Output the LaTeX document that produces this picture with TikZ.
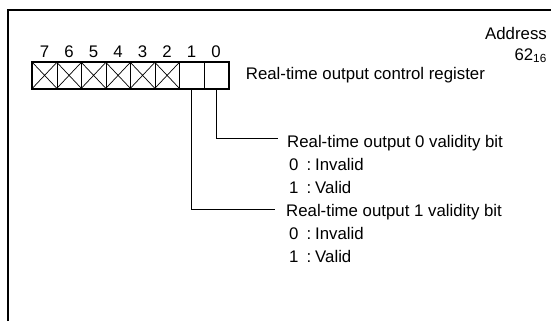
\documentclass[tikz,border=0pt]{standalone}
\usepackage{fontspec}
\setmainfont{Liberation Sans}
\usetikzlibrary{positioning}

\begin{document}
\begin{tikzpicture}[
    x=1pt, y=-1pt,
    node distance=8pt,
    every node/.style={inner sep=0pt, font=\fontsize{16.8}{19}\selectfont},
    lbl/.style={text height=11.5pt, text depth=3.5pt},
    cell/.style={draw, line width=0.7pt, minimum width=24.5pt, minimum height=26pt, anchor=north west},
    frame/.style={line width=1.8pt},
    lead/.style={line width=0.7pt}
]
\useasboundingbox (0,0) rectangle (551,321);
\draw[frame] (8,321) -- (8,10) -- (551,10);

% register bits
\foreach \b [count=\i from 0] in {7,6,5,4,3,2,1,0} {
  \node[cell] (c\b) at ({32+24.5*\i},62) {};
  \node[above=4pt of c\b] (n\b) {\b};
}
\foreach \b in {7,6,5,4,3,2}
  \draw[line width=0.7pt] (c\b.north west) -- (c\b.south east) (c\b.north east) -- (c\b.south west);
\draw[frame] (c7.north west) rectangle (c0.south east);

\node[lbl, right=17pt of c0] (reg) {Real-time output control register};
\node[anchor=base east] (addr) at (547,40) {Address};
\node[anchor=base east] (addrval) at (547,60) {62\textsubscript{16}};

% bit 0
\node[lbl, anchor=base west] (b0) at (287,147) {Real-time output 0 validity bit};
\node[lbl, below=of b0.south west, anchor=north west, xshift=2pt] (b0z) {0\hspace{8pt}:\hspace{4pt}Invalid};
\node[lbl, below=of b0z.south west, anchor=north west] (b0o) {1\hspace{8pt}:\hspace{4pt}Valid};
\draw[lead] (c0.south) |- ([shift={(-9,-9)}]b0.base west);

% bit 1
\node[lbl, anchor=base west] (b1) at (286,216) {Real-time output 1 validity bit};
\node[lbl, below=of b1.south west, anchor=north west, xshift=3pt] (b1z) {0\hspace{8pt}:\hspace{4pt}Invalid};
\node[lbl, below=of b1z.south west, anchor=north west] (b1o) {1\hspace{8pt}:\hspace{4pt}Valid};
\draw[lead] (c1.south) |- ([shift={(-11,-7)}]b1.base west);
\end{tikzpicture}
\end{document}
